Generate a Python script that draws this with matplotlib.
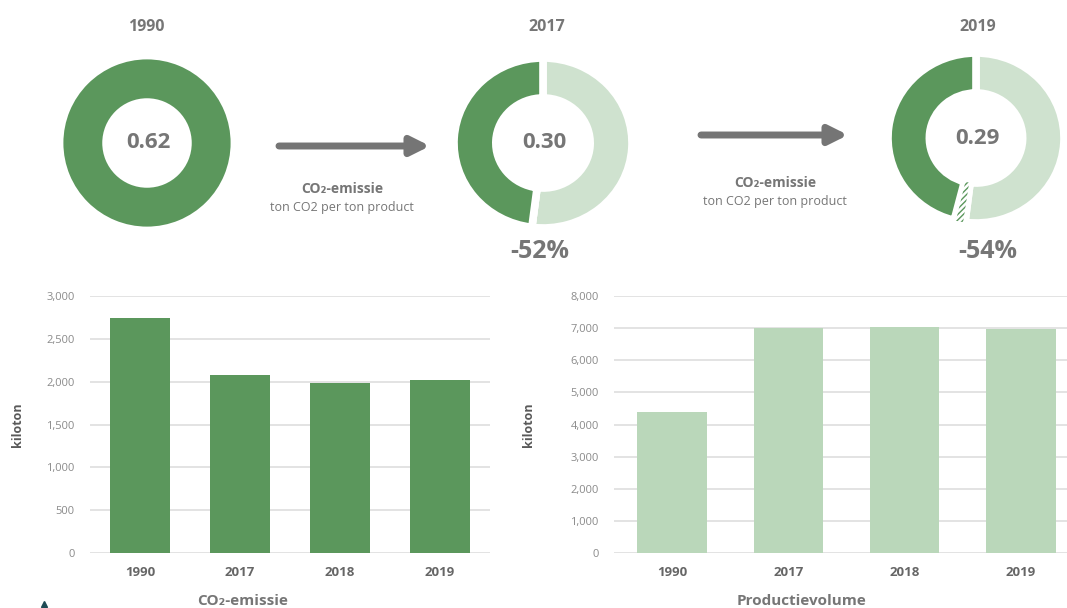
import matplotlib
matplotlib.use("Agg")
import matplotlib.pyplot as plt
from matplotlib.patches import Wedge

plt.rcParams['font.family'] = ['Open Sans', 'DejaVu Sans']

# --- data ---
jaren = ['1990', '2017', '2018', '2019']
co2_kiloton = [2740, 2080, 1990, 2020]
productie_kiloton = [4385, 6995, 7025, 6975]

donut_jaren = ['1990', '2017', '2019']
donut_waarde = ['0.62', '0.30', '0.29']
# aandelen t.o.v. 1990: [reductie, extra reductie, rest]
donut_delen = [[0.0, 0.0, 1.0], [0.52, 0.0, 0.48], [0.52, 0.02, 0.46]]
donut_reductie = ['', '-52%', '-54%']

DONKER = '#5b975c'
LICHT = '#cfe2cf'
BALK_LICHT = '#bad7ba'
GRIJS = '#767676'
GRID = '#dedede'

W, H = 1067, 608
fig = plt.figure(figsize=(W / 100, H / 100), dpi=100)

# overlay voor tekst en pijlen (pixelcoordinaten)
ov = fig.add_axes([0, 0, 1, 1], zorder=5)
ov.set_xlim(0, W)
ov.set_ylim(H, 0)
ov.axis('off')
ov.patch.set_alpha(0)


def px_axes(cx, cy, rx, ry):
    return fig.add_axes([(cx - rx) / W, 1 - (cy + ry) / H, 2 * rx / W, 2 * ry / H])


# donuts: (cx, cy, rx, ry, titel-x, reductie-x)
centra = [(147, 143, 85, 85, 146, 0), (543, 143, 89, 85, 547, 540),
          (976, 138, 88, 85, 978, 988)]
for i, (cx, cy, rx, ry, tx, rxl) in enumerate(centra):
    ax = px_axes(cx, cy, rx, ry)
    red, extra, rest = donut_delen[i]
    if red == 0:
        wedges, _ = ax.pie([rest], colors=[DONKER], startangle=90, counterclock=False,
                           wedgeprops=dict(width=0.49, edgecolor='white', linewidth=2))
    else:
        vals = [red, extra, rest]
        wedges, _ = ax.pie(vals, colors=[LICHT, 'white', DONKER], startangle=90,
                           counterclock=False,
                           wedgeprops=dict(width=0.47, edgecolor='white', linewidth=5.5))
        if extra > 0:
            w = wedges[1]
            h = Wedge((0, 0), 1, w.theta1 + 1.2, w.theta2 - 1.2, width=0.47,
                      facecolor='none', edgecolor=DONKER, linewidth=0, hatch='//////')
            ax.add_patch(h)
    ax.set_aspect('auto')
    ax.set_xlim(-1, 1)
    ax.set_ylim(-1, 1)
    ax.axis('off')
    ov.text(cx + 1, cy, donut_waarde[i], ha='center', va='center', fontsize=16,
            fontweight='bold', color=GRIJS)
    ov.text(tx, 27, donut_jaren[i], ha='center', va='center', fontsize=11.5,
            fontweight='bold', color=GRIJS)
    if donut_reductie[i]:
        ov.text(rxl, 251, donut_reductie[i], ha='center', va='center', fontsize=18,
                fontweight='bold', color=GRIJS)

# pijlen met onderschrift
for x0, x1, y, tx, ty in [(279, 430, 146, 342, 189), (701, 848, 135, 775, 183)]:
    ov.annotate('', xy=(x1, y), xytext=(x0, y),
                arrowprops=dict(arrowstyle='-|>,head_length=1.1,head_width=0.55',
                                color='#757575', lw=5, shrinkA=0, shrinkB=0))
    ov.text(tx, ty, 'CO₂-emissie', ha='center', va='center', fontsize=10,
            fontweight='bold', color=GRIJS)
    ov.text(tx, ty + 19, 'ton CO2 per ton product', ha='center', va='center',
            fontsize=9, color=GRIJS)


def staafgrafiek(ax, waarden, kleur, ymax, stap):
    x = range(len(jaren))
    ax.bar(x, waarden, width=0.6, color=kleur, zorder=3)
    ax.set_xlim(-0.5, len(jaren) - 0.5)
    ax.set_ylim(0, ymax)
    ax.set_yticks(range(0, ymax + 1, stap))
    ax.set_yticklabels([f'{v:,}' for v in range(0, ymax + 1, stap)])
    ax.set_xticks(list(x))
    ax.set_xticklabels(jaren, fontweight='bold')
    ax.grid(axis='y', color=GRID, linewidth=1.2, zorder=0)
    ax.set_axisbelow(True)
    for s in ax.spines.values():
        s.set_visible(False)
    ax.tick_params(axis='y', length=0, pad=11, labelsize=8, labelcolor='#8a8a8a')
    ax.tick_params(axis='x', length=0, pad=9, labelsize=9.5, labelcolor='#666666')
    ax.set_ylabel('kiloton', fontsize=9, fontweight='bold', color='#595959')
    ax.patch.set_alpha(0)


ax1 = fig.add_axes([90 / W, 1 - 553 / H, 400 / W, 257 / H])
staafgrafiek(ax1, co2_kiloton, DONKER, 3000, 500)
ax1.yaxis.set_label_coords(-66 / 400, 0.5)

ax2 = fig.add_axes([614 / W, 1 - 553 / H, 465 / W, 257 / H])
staafgrafiek(ax2, productie_kiloton, BALK_LICHT, 8000, 1000)
ax2.yaxis.set_label_coords(-79 / 465, 0.5)

ov.text(243, 601, 'CO₂-emissie', ha='center', va='center', fontsize=11,
        fontweight='bold', color=GRIJS)
ov.text(801, 601, 'Productievolume', ha='center', va='center', fontsize=11,
        fontweight='bold', color=GRIJS)
ov.plot([44], [604], marker='^', markersize=5, color='#1f4b55')

fig.savefig('out.png', dpi=100)
